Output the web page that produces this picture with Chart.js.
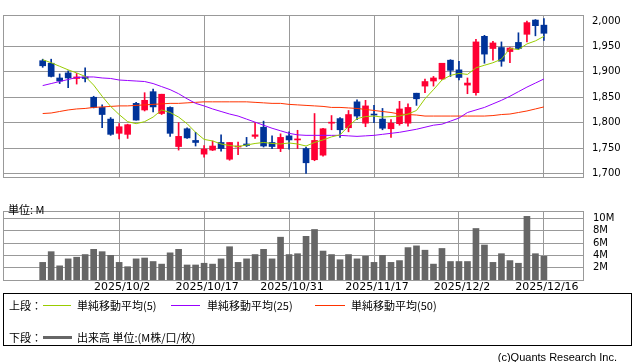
<!DOCTYPE html>
<html>
<head>
<meta charset="utf-8">
<script src="https://cdn.jsdelivr.net/npm/chart.js@4.4.1/dist/chart.umd.min.js"></script>
<style>
  body { margin: 0; background: #fff; }
  #wrap { position: relative; width: 638px; height: 362px; background: #fff; overflow: hidden; }
  canvas { position: absolute; left: 0; }
  .txt { position: absolute; font: 11px "Noto Sans CJK JP", sans-serif; color: #000; white-space: nowrap; line-height: 14px; }
  .ln { position: absolute; height: 0; border-top: 1px solid; }
  #legend { position: absolute; left: 3px; top: 293px; width: 629px; height: 53px; border: 1px solid #000; box-sizing: border-box; }
</style>
</head>
<body>
<div id="wrap">
  <canvas id="price" width="638" height="192" style="top:0"></canvas>
  <canvas id="vol" width="638" height="105" style="top:195px"></canvas>
  <div class="txt" style="left:8px;top:202px">単位: M</div>
  <div id="legend">
    <div class="txt" style="left:5px;top:4px">上段：</div>
    <div class="ln" style="left:39px;top:11px;width:28px;border-color:#99cc00"></div>
    <div class="txt" style="left:73px;top:4px">単純移動平均(5)</div>
    <div class="ln" style="left:167px;top:11px;width:29px;border-color:#9900ff"></div>
    <div class="txt" style="left:203px;top:4px">単純移動平均(25)</div>
    <div class="ln" style="left:311px;top:11px;width:30px;border-color:#ff3300"></div>
    <div class="txt" style="left:347px;top:4px">単純移動平均(50)</div>
    <div class="txt" style="left:5px;top:36px">下段：</div>
    <div class="ln" style="left:39px;top:42px;width:29px;border-top-width:3px;border-color:#666"></div>
    <div class="txt" style="left:73px;top:36px">出来高 単位:(M株/口/枚)</div>
  </div>
  <div class="txt" style="right:21px;top:350px;font-family:'Liberation Sans',sans-serif">(c)Quants Research Inc.</div>
</div>
<script>
// trading days shown (2025)
const dates = [
  "2025/9/18","2025/9/19","2025/9/22","2025/9/24","2025/9/25","2025/9/26","2025/9/29","2025/9/30","2025/10/1","2025/10/2",
  "2025/10/3","2025/10/6","2025/10/7","2025/10/8","2025/10/9","2025/10/10","2025/10/14","2025/10/15","2025/10/16","2025/10/17",
  "2025/10/20","2025/10/21","2025/10/22","2025/10/23","2025/10/24","2025/10/27","2025/10/28","2025/10/29","2025/10/30","2025/10/31",
  "2025/11/4","2025/11/5","2025/11/6","2025/11/7","2025/11/10","2025/11/11","2025/11/12","2025/11/13","2025/11/14","2025/11/17",
  "2025/11/18","2025/11/19","2025/11/20","2025/11/21","2025/11/25","2025/11/26","2025/11/27","2025/11/28","2025/12/1","2025/12/2",
  "2025/12/3","2025/12/4","2025/12/5","2025/12/8","2025/12/9","2025/12/10","2025/12/11","2025/12/12","2025/12/15","2025/12/16"
];

const open = [1922,1917,1888,1898,1887,1890,1850,1830,1807,1779,1777,1838,1825,1861,1818,1830,1753,1788,1765,1738,
  1746,1761,1728,1752,1758,1773,1791,1761,1749,1774,1766,1749,1727,1736,1799,1808,1790,1841,1799,1817,
  1807,1788,1798,1799,1858,1872,1882,1886,1923,1904,1874,1859,1970,1946,1948,1940,1958,1974,2002,1992];
const close = [1912,1891,1882,1888,1890,1887,1830,1816,1777,1792,1796,1805,1844,1831,1856,1779,1773,1770,1761,1748,
  1754,1749,1761,1754,1755,1776,1754,1753,1771,1766,1767,1721,1765,1788,1800,1786,1816,1813,1833,1815,
  1789,1799,1827,1830,1847,1881,1888,1917,1903,1889,1878,1959,1935,1957,1921,1947,1946,1997,1991,1976];
const high = [1925,1925,1896,1902,1897,1908,1852,1835,1810,1798,1797,1840,1859,1866,1856,1831,1800,1790,1781,1755,
  1764,1776,1761,1762,1771,1800,1803,1774,1778,1782,1785,1752,1818,1789,1814,1810,1824,1845,1844,1834,
  1828,1806,1842,1837,1858,1886,1891,1917,1924,1921,1888,1964,1972,1960,1959,1948,1977,2000,2003,2005];
const low = [1909,1890,1877,1869,1876,1880,1829,1790,1775,1768,1769,1805,1823,1821,1816,1773,1746,1769,1754,1732,
  1745,1744,1726,1737,1753,1769,1752,1749,1743,1748,1749,1700,1725,1734,1786,1771,1782,1806,1792,1800,
  1786,1771,1795,1793,1834,1859,1872,1885,1891,1884,1857,1854,1917,1923,1911,1918,1944,1959,1971,1962];

// moving averages
const ma5 = [1924,1918,1911,1904,1898,1891,1874,1852,1832,1816,1802,1798,1802,1811,1825,1820,1811,1798,1781,1767,
  1764,1758,1755,1753,1756,1759,1761,1759,1758,1760,1758,1754,1761,1766,1772,1776,1793,1808,1812,1813,
  1811,1812,1813,1817,1824,1847,1865,1884,1893,1897,1895,1908,1913,1918,1925,1946,1944,1955,1961,1970];
const ma25 = [1873,1877,1881,1885,1889,1890,1890,1888,1887,1884,1883,1882,1881,1877,1871,1865,1857,1847,1838,1833,
  1827,1822,1817,1813,1807,1801,1795,1789,1784,1779,1776,1775,1775,1775,1775,1775,1774,1773,1774,1775,
  1777,1779,1781,1784,1787,1791,1795,1797,1803,1809,1820,1825,1830,1837,1844,1852,1861,1870,1878,1886];
const ma50 = [1818,1819,1822,1825,1827,1828,1830,1831,1832,1833,1833,1834,1835,1836,1837,1838,1838,1839,1840,1841,
  1841,1841,1841,1841,1841,1840,1839,1838,1838,1836,1835,1834,1833,1832,1830,1830,1829,1828,1826,1824,
  1822,1820,1817,1816,1815,1813,1813,1813,1813,1813,1813,1813,1813,1814,1816,1817,1820,1823,1827,1831];

// volume in millions
const volume = [2.86,4.6,2.3,3.43,3.7,4.13,4.98,4.6,4.0,2.86,2.16,3.43,3.57,3.0,2.58,4.41,4.98,2.44,2.44,2.72,
  2.58,3.43,5.4,2.86,3.43,4.13,4.98,3.43,6.95,4.13,4.27,7.09,8.2,4.7,4.13,3.29,4.13,3.43,3.85,2.86,
  4.0,2.86,3.15,5.26,5.54,4.84,2.58,5.12,3.0,3.0,3.0,8.36,5.68,2.86,4.27,3.15,2.72,10.33,4.27,3.85];

const dateTicks = [9, 19, 29, 39, 49, 59];
const priceTicks = [1700, 1750, 1800, 1850, 1900, 1950, 2000];
const volTicks = [2, 4, 6, 8, 10];

const RED = "#ff0033", BLUE = "#003399", GRID = "#999";
const candleColors = open.map((o, i) => close[i] >= o ? RED : BLUE);

// box around the plot area
const frame = {
  id: "frame",
  beforeDatasetsDraw(chart) {
    const { ctx, chartArea: a } = chart;
    ctx.save();
    ctx.strokeStyle = GRID;
    ctx.lineWidth = 1;
    ctx.strokeRect(a.left + 0.5, a.top + 0.5, a.right - a.left, a.bottom - a.top);
    ctx.restore();
  }
};

function xScale(showLabels) {
  return {
    type: "linear", min: -4.67, max: 63.6, offset: false,
    grid: { color: GRID, drawTicks: false, offset: false },
    border: { display: false },
    afterBuildTicks: s => { s.ticks = dateTicks.map(v => ({ value: v })); },
    ticks: {
      display: showLabels, padding: 1, labelOffset: 3, color: "#000", maxRotation: 0, autoSkip: false,
      font: { family: "DejaVu Sans", size: 11 },
      callback: v => dates[v]
    },
    afterFit: s => { s.height = showLabels ? 20 : 0; }
  };
}

const line = (data, color) => ({
  type: "line", data: data.map((v, i) => ({ x: i, y: v })),
  borderColor: color, borderWidth: 1, pointRadius: 0, tension: 0, order: 0
});

new Chart(document.getElementById("price"), {
  type: "bar",
  data: {
    datasets: [
      line(ma5, "#99cc00"),
      line(ma25, "#9900ff"),
      line(ma50, "#ff3300"),
      {
        data: open.map((o, i) => ({ x: i, y: [o, close[i]] })),
        backgroundColor: candleColors, barThickness: 6, minBarLength: 1, grouped: false, order: 1
      },
      {
        data: high.map((h, i) => ({ x: i, y: [low[i], h] })),
        backgroundColor: candleColors, barThickness: 1, grouped: false, order: 2
      }
    ]
  },
  options: {
    responsive: false, animation: false, devicePixelRatio: 1,
    layout: { padding: { left: 3, top: 1, right: 0, bottom: 2 } },
    plugins: { legend: { display: false }, tooltip: { enabled: false } },
    scales: {
      x: xScale(false),
      y: {
        position: "right", min: 1693, max: 2012, beginAtZero: false,
        afterBuildTicks: s => { s.ticks = priceTicks.map(v => ({ value: v })); },
        grid: { color: c => c.tick && c.tick.value === 2000 ? "rgba(0,0,0,0)" : GRID, drawTicks: false },
        border: { display: false },
        ticks: {
          padding: 9, color: "#000", font: { family: "DejaVu Sans", size: 10 },
          callback: v => v.toLocaleString("en-US")
        },
        afterFit: s => { s.width = 55; }
      }
    }
  },
  plugins: [frame]
});

new Chart(document.getElementById("vol"), {
  type: "bar",
  data: {
    datasets: [{
      data: volume.map((v, i) => ({ x: i, y: v })),
      backgroundColor: "#666", barThickness: 6, grouped: false
    }]
  },
  options: {
    responsive: false, animation: false, devicePixelRatio: 1,
    layout: { padding: { left: 3, top: 6, right: 0, bottom: 0 } },
    plugins: { legend: { display: false }, tooltip: { enabled: false } },
    scales: {
      x: xScale(true),
      y: {
        position: "right", min: 0, max: 11.2,
        afterBuildTicks: s => { s.ticks = volTicks.map(v => ({ value: v })); },
        grid: { color: GRID, drawTicks: false },
        border: { display: false },
        ticks: {
          padding: 10, color: "#000", font: { family: "DejaVu Sans", size: 10 },
          callback: v => v + "M"
        },
        afterFit: s => { s.width = 55; }
      }
    }
  },
  plugins: [frame]
});
</script>
</body>
</html>
